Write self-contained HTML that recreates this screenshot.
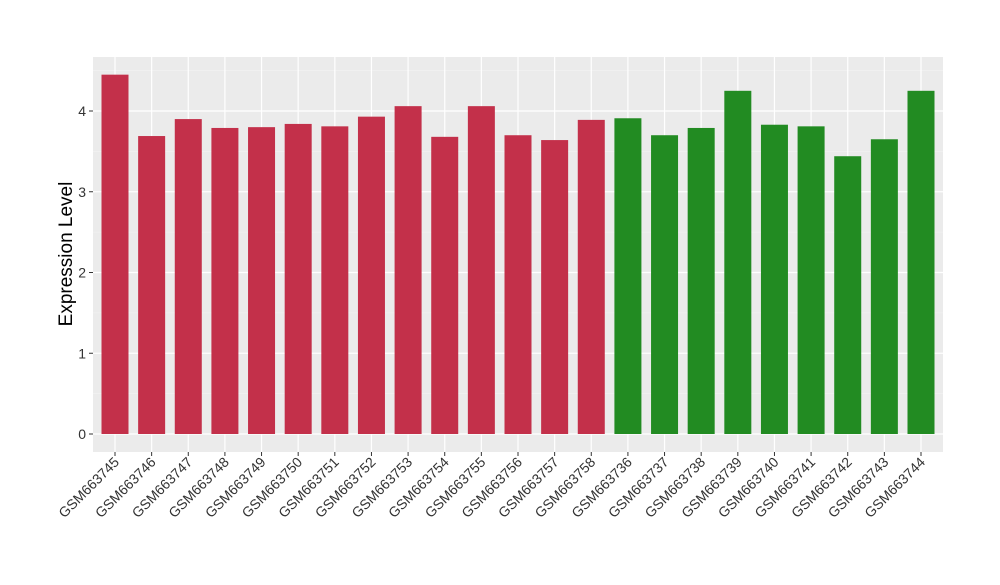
<!DOCTYPE html>
<html><head><meta charset="utf-8"><style>
body{margin:0;background:#fff;}
svg text{font-family:"Liberation Sans",sans-serif;}
</style></head><body>
<svg id="chart" width="1000" height="580">
<rect x="93" y="57" width="850" height="395" fill="#ebebeb"/>
<g id="grid"></g><g id="bars"></g><g id="yaxis"></g><g id="xaxis"></g>
<text transform="translate(72,254) rotate(-90)" text-anchor="middle" font-size="19" fill="#000">Expression Level</text>
</svg>
<script>
const categories=["GSM663745","GSM663746","GSM663747","GSM663748","GSM663749","GSM663750","GSM663751","GSM663752","GSM663753","GSM663754","GSM663755","GSM663756","GSM663757","GSM663758","GSM663736","GSM663737","GSM663738","GSM663739","GSM663740","GSM663741","GSM663742","GSM663743","GSM663744"];
const values=[4.45,3.69,3.90,3.79,3.80,3.84,3.81,3.93,4.06,3.68,4.06,3.70,3.64,3.89,3.91,3.70,3.79,4.25,3.83,3.81,3.44,3.65,4.25];
const groups=["a","a","a","a","a","a","a","a","a","a","a","a","a","a","b","b","b","b","b","b","b","b","b"];
const yTicks=[0,1,2,3,4];
const ns="http://www.w3.org/2000/svg";
const y=v=>434-v*80.75;
const step=(921-115)/22;
const x=i=>115+i*step;
const bw=27;
const colors={a:"#c3304a",b:"#228b22"};
function mk(t,a,p){const e=document.createElementNS(ns,t);for(const k in a)e.setAttribute(k,a[k]);document.getElementById(p).appendChild(e);return e;}
for(let v=0.5;v<4.6;v+=1){const g=mk("line",{x1:93,x2:943,y1:y(v),y2:y(v),stroke:"#f5f5f5","stroke-width":0.6},"grid");

}
yTicks.forEach(t=>{const g=mk("line",{x1:93,x2:943,y1:y(t),y2:y(t),stroke:"#fff","stroke-width":1.2},"grid");


const tk=mk("line",{x1:89,x2:93,y1:y(t),y2:y(t),stroke:"#333"},"yaxis");


const tx=mk("text",{x:86,y:y(t)+5,"text-anchor":"end","font-size":14,fill:"#333"},"yaxis");
tx.textContent=t;

});
categories.forEach((c,i)=>{const g=mk("line",{x1:x(i),x2:x(i),y1:57,y2:452,stroke:"#fff","stroke-width":1.2},"grid");


const b=mk("rect",{x:x(i)-bw/2,y:y(values[i]),width:bw,height:y(0)-y(values[i]),fill:colors[groups[i]]},"bars");


const tk=mk("line",{x1:x(i),x2:x(i),y1:452,y2:456,stroke:"#333"},"xaxis");


const tx=mk("text",{transform:`translate(${x(i)+5},${463}) rotate(-45)`,"text-anchor":"end","font-size":14,fill:"#333"},"xaxis");
tx.textContent=c;

});
</script>
</body></html>
